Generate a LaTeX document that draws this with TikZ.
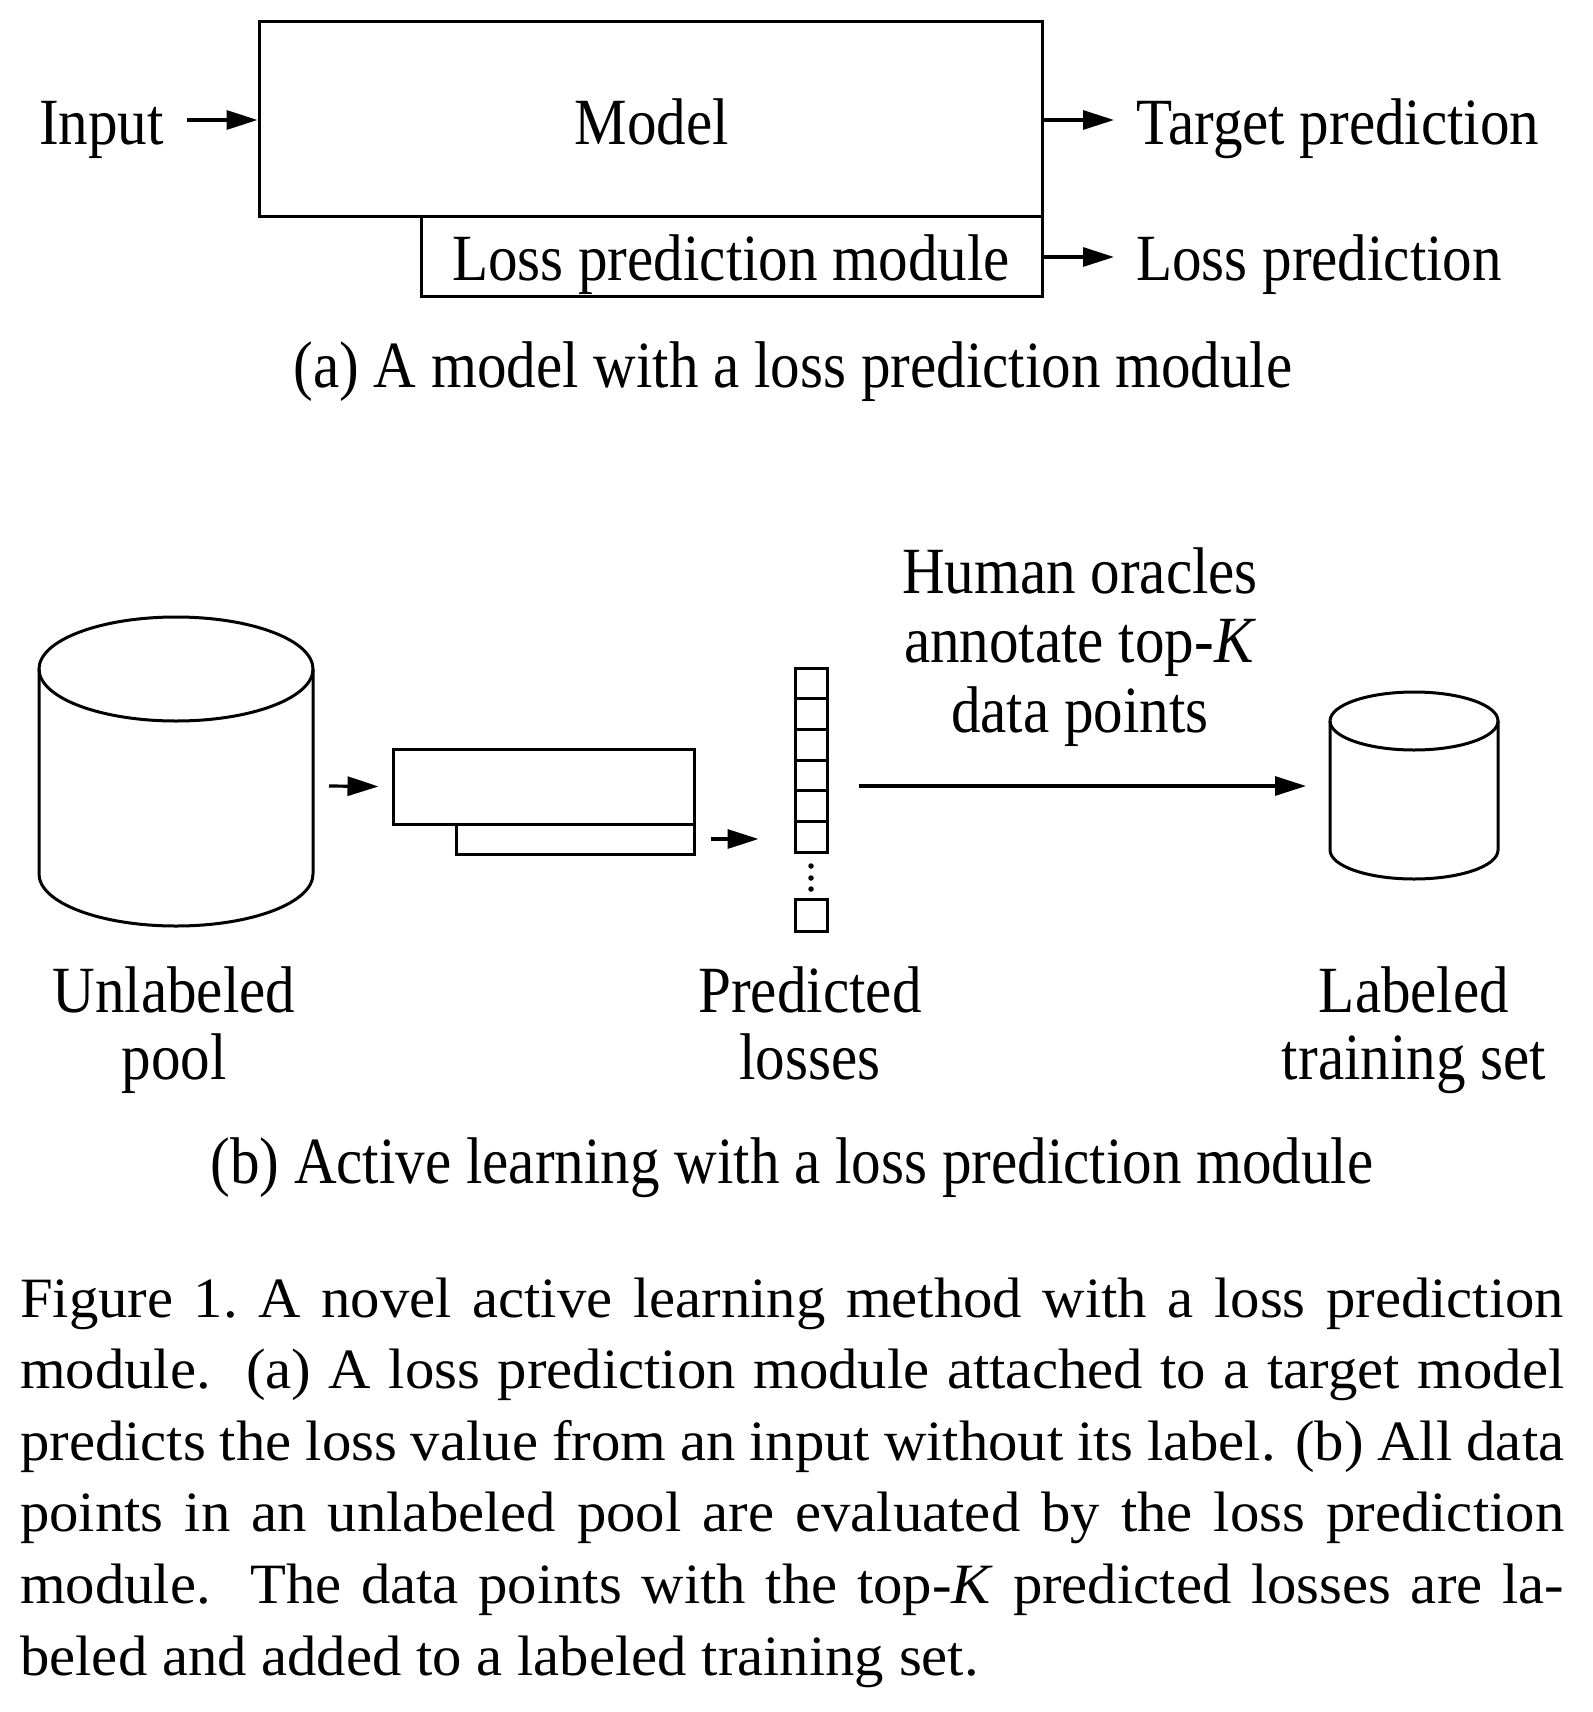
\documentclass[tikz,border=0pt]{standalone}
\usepackage{fontspec}
\setmainfont{Liberation Serif}
\newfontfamily\diagfont{Liberation Serif}[FakeStretch=0.895]
\newfontfamily\capfont{Liberation Serif}[FakeStretch=1.03]
\usetikzlibrary{arrows.meta}
\begin{document}
\begin{tikzpicture}[x=1pt,y=-1pt,
  box/.style={draw, line width=3pt, inner sep=0pt},
  arr/.style={-{Triangle[length=31pt,width=19pt]}, line width=3.2pt},
  txt/.style={inner sep=0pt, font=\diagfont\fontsize{66}{70}\selectfont},
  captxt/.style={inner sep=0pt, font=\capfont\fontsize{57}{71.5}\selectfont},
  cyl/.style={line width=3pt},
  dotn/.style={circle, fill, inner sep=0pt, minimum size=5.5pt},
]
\useasboundingbox (0,0) rectangle (1592,1712);

% ---------- (a) ----------
\node[box, minimum width=783, minimum height=195] (model) at (650.5,119.5) {};
\node[box, minimum width=621, minimum height=79] (lpm) at (731.5,256.5) {};
\node[txt, anchor=base] (modeltxt) at (652,145) {Model};
\node[txt, anchor=base] (lpmtxt) at (731,280) {Loss prediction module};
\node[txt, anchor=base east] (input) at (164,145) {Input};
\node[txt, anchor=base west] (target) at (1136,145) {Target prediction};
\node[txt, anchor=base west] (losspred) at (1136,280) {Loss prediction};
\coordinate (inA) at (187,120);
\coordinate (tA) at (1114,120);
\coordinate (lA) at (1114,257);
\draw[arr] (inA) -- (inA -| model.west);
\draw[arr] (tA -| model.east) -- (tA);
\draw[arr] (lA -| lpm.east) -- (lA);
\node[txt, anchor=base] (capa) at (793,387) {(a) A model with a loss prediction module};

% ---------- (b) ----------
% unlabeled pool cylinder
\draw[cyl] (39,669) -- (39,874) arc[start angle=180, end angle=0, x radius=137, y radius=52] -- (313,669);
\draw[cyl] (176,669) ellipse[x radius=137, y radius=52];
\coordinate (pool) at (313,786);
% labeled training set cylinder
\draw[cyl] (1330,721) -- (1330,850) arc[start angle=180, end angle=0, x radius=84, y radius=29] -- (1498,721);
\draw[cyl] (1414,721) ellipse[x radius=84, y radius=29];
\coordinate (lset) at (1330,786);

\node[box, minimum width=301, minimum height=75] (mb) at (543.5,786.5) {};
\node[box, minimum width=238, minimum height=30] (lb) at (575,839) {};

% predicted losses column
\foreach \i in {0,...,5} {
  \node[box, minimum width=32, minimum height=30.67] (c\i) at (811,{683.33+30.67*\i}) {};
}
\node[box, minimum width=32, minimum height=32] (clast) at (811,915) {};
\node[dotn] (d1) at (811,866) {};
\node[dotn] (d2) at (811,878) {};
\node[dotn] (d3) at (811,889) {};

\draw[arr] ([xshift=16pt]pool) -- ([xshift=-13pt]mb.west);
\draw[arr] ([xshift=15pt]lb.east) -- ([xshift=-35pt]lb.east -| c5.west);
\draw[arr] ([xshift=30pt]lset -| c3.east) -- ([xshift=-24pt]lset);

\node[txt, anchor=base] (h1) at (1080,593) {Human oracles};
\node[txt, anchor=base] (h2) at (1080,662) {annotate top-\textit{K}};
\node[txt, anchor=base] (h3) at (1080,732) {data points};

\node[txt, anchor=base] (u1) at (174,1012) {Unlabeled};
\node[txt, anchor=base] (u2) at (174,1079) {pool};
\node[txt, anchor=base] (p1) at (810,1012) {Predicted};
\node[txt, anchor=base] (p2) at (810,1079) {losses};
\node[txt, anchor=base] (l1) at (1414,1012) {Labeled};
\node[txt, anchor=base] (l2) at (1414,1079) {training set};

\node[txt, anchor=base] (capb) at (792,1183) {(b) Active learning with a loss prediction module};

% ---------- figure caption ----------
\node[captxt, anchor=base west] (f1) at (20,1317) {\makebox[1544pt][s]{Figure 1.\ A novel active learning method with a loss prediction}};
\node[captxt, anchor=base west] (f2) at (20,1388.6) {\makebox[1544pt][s]{module.\ \ (a) A loss prediction module attached to a target model}};
\node[captxt, anchor=base west] (f3) at (20,1460.2) {\makebox[1544pt][s]{predicts the loss value from an input without its label. (b) All data}};
\node[captxt, anchor=base west] (f4) at (20,1531.8) {\makebox[1544pt][s]{points in an unlabeled pool are evaluated by the loss prediction}};
\node[captxt, anchor=base west] (f5) at (20,1603.4) {\makebox[1544pt][s]{module.\ \ The data points with the top-\textit{K} predicted losses are la-}};
\node[captxt, anchor=base west] (f6) at (20,1675) {beled and added to a labeled training set.};
\end{tikzpicture}
\end{document}
